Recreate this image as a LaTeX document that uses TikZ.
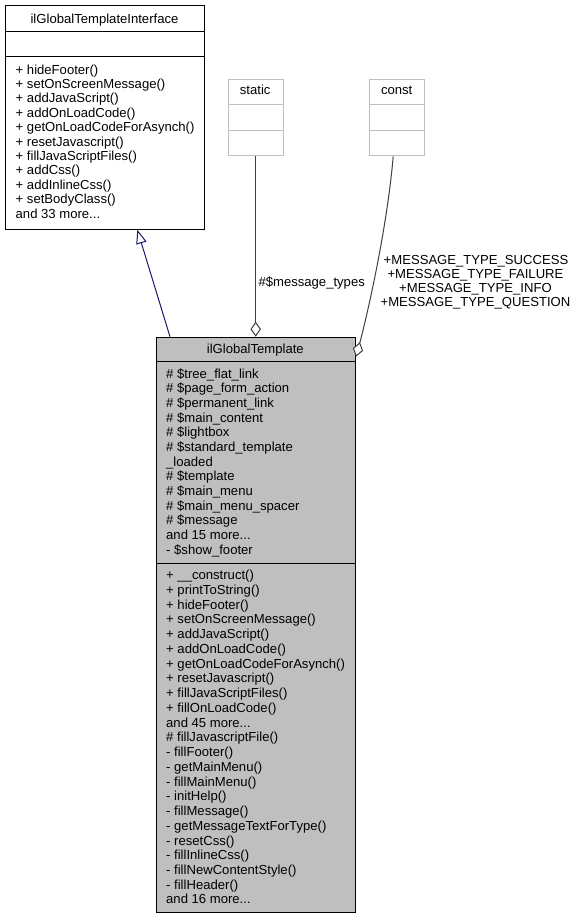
\documentclass[tikz,border=0pt]{standalone}
\usepackage{fontspec}
\setmainfont{Liberation Sans}
\usetikzlibrary{arrows.meta,calc}
\definecolor{boxgray}{HTML}{BFBFBF}
\definecolor{lightborder}{HTML}{BFBFBF}
\definecolor{edgegray}{HTML}{404040}
\definecolor{inhblue}{HTML}{191970}
\newcommand\tdots{...}
\begin{document}
\begin{tikzpicture}[x=1bp,y=-1bp,
  every node/.style={inner sep=0pt,font=\fontsize{13.1bp}{14.6bp}\selectfont},
  classbox/.style={draw=black,line width=1bp,anchor=north west},
  keybox/.style={draw=lightborder,line width=1bp,fill=white,anchor=north west,minimum width=55bp,minimum height=76.3bp},
  member/.style={anchor=base west},
  aggr/.style={draw=edgegray,line width=1bp,-{Diamond[open,fill=white,length=15bp,width=10.5bp,line width=1bp]}},
  inherit/.style={draw=inhblue,line width=1bp,-{Triangle[open,fill=white,length=14bp,width=10.5bp,line width=1bp]}},
  lbl/.style={anchor=base}]
\useasboundingbox (0,0) rectangle (578,917);
\fill[white] (0,0) rectangle (578,917);

% ---- interface box
\node[classbox,fill=white,minimum width=199bp,minimum height=223.4bp] (iface) at (5,5.3) {};
\draw[line width=1bp] (5,31.7) -- (204,31.7);
\draw[line width=1bp] (5,56.7) -- (204,56.7);
\node[lbl] (ifacetitle) at (104.5,23.7) {ilGlobalTemplateInterface};
\foreach \t [count=\i] in {+ hideFooter(),+ setOnScreenMessage(),+ addJavaScript(),+ addOnLoadCode(),+ getOnLoadCodeForAsynch(),+ resetJavascript(),+ fillJavaScriptFiles(),+ addCss(),+ addInlineCss(),+ setBodyClass(),and 33 more\tdots}
  \node[member] (ifm\i) at (15.5,{74+14.4*(\i-1)}) {\t};

% ---- static / const boxes
\node[keybox] (static) at (227.7,79) {};
\draw[draw=lightborder,line width=1bp] (227.7,104.5) -- (282.7,104.5);
\draw[draw=lightborder,line width=1bp] (227.7,130) -- (282.7,130);
\node[lbl] (statictitle) at (255.2,94.7) {static};

\node[keybox] (const) at (369.2,79) {};
\draw[draw=lightborder,line width=1bp] (369.2,104.5) -- (424.2,104.5);
\draw[draw=lightborder,line width=1bp] (369.2,130) -- (424.2,130);
\node[lbl] (consttitle) at (396.7,94.7) {const};

% ---- main class box
\node[classbox,fill=boxgray,minimum width=199.3bp,minimum height=575bp] (main) at (155.7,336.7) {};
\draw[line width=1bp] (155.7,361.7) -- (355,361.7);
\draw[line width=1bp] (155.7,563.3) -- (355,563.3);
\node[lbl] (maintitle) at (255.3,353) {ilGlobalTemplate};
\foreach \t [count=\i] in {\# \$tree\_flat\_link,\# \$page\_form\_action,\# \$permanent\_link,\# \$main\_content,\# \$lightbox,\# \$standard\_template,\_loaded,\# \$template,\# \$main\_menu,\# \$main\_menu\_spacer,\# \$message,and 15 more\tdots,- \$show\_footer}
  \node[member] (mattr\i) at (166,{378+14.67*(\i-1)}) {\t};
\foreach \t [count=\i] in {+ \_\_construct(),+ printToString(),+ hideFooter(),+ setOnScreenMessage(),+ addJavaScript(),+ addOnLoadCode(),+ getOnLoadCodeForAsynch(),+ resetJavascript(),+ fillJavaScriptFiles(),+ fillOnLoadCode(),and 45 more\tdots,\# fillJavascriptFile(),- fillFooter(),- getMainMenu(),- fillMainMenu(),- initHelp(),- fillMessage(),- getMessageTextForType(),- resetCss(),- fillInlineCss(),- fillNewContentStyle(),- fillHeader(),and 16 more\tdots}
  \node[member] (mmeth\i) at (166,{579.7+14.74*(\i-1)}) {\t};

% ---- connectors
\draw[inherit] ($(main.north west)+(14.3,0)$) -- ($(iface.south west)+(132.3,0)$);
\draw[aggr] (static.south) -- (static.south |- main.north);
\draw[aggr] ($(const.south)+(-4,0)$) .. controls (387,230) and (366,320) .. ($(main.north east)+(0,20)$);

% ---- edge labels
\node[lbl] (msgtypes) at (311.7,286.4) {\#\$message\_types};
\node[lbl] (c1) at (476,264) {+MESSAGE\_TYPE\_SUCCESS};
\node[lbl] (c2) at (475.5,278.3) {+MESSAGE\_TYPE\_FAILURE};
\node[lbl] (c3) at (475.5,292.5) {+MESSAGE\_TYPE\_INFO};
\node[lbl] (c4) at (475.5,306.7) {+MESSAGE\_TYPE\_QUESTION};
\end{tikzpicture}
\end{document}
